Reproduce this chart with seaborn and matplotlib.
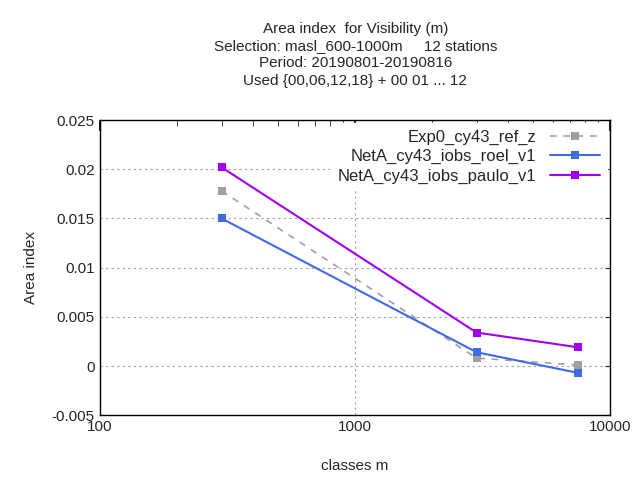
import matplotlib
matplotlib.use("Agg")
import matplotlib.pyplot as plt
import seaborn as sns
import pandas as pd
from matplotlib.ticker import FixedLocator, NullFormatter

sns.set_style("white")
plt.rcParams['font.family'] = ['Liberation Sans', 'DejaVu Sans']

classes = [300, 3000, 7500]
exp0 = [0.0178, 0.0008, 0.0001]
roel = [0.0150, 0.0014, -0.0007]
paulo = [0.0202, 0.0034, 0.0019]
names = ["Exp0_cy43_ref_z", "NetA_cy43_iobs_roel_v1", "NetA_cy43_iobs_paulo_v1"]
colors = ["#a0a0a0", "#4169e1", "#a000f0"]

df = pd.DataFrame({"x": classes * 3, "y": exp0 + roel + paulo,
                   "exp": sum([[n] * 3 for n in names], [])})

fig = plt.figure(figsize=(6.4, 4.8), dpi=100)
ax = fig.add_axes([0.156, 0.135, 0.797, 0.615])
for n, c in zip(names, colors):
    d = df[df.exp == n]
    ls = (0, (4, 4)) if n.startswith("Exp0") else "-"
    sns.lineplot(data=d, x="x", y="y", ax=ax, color=c, lw=1.5 if ls == "-" else 1.2,
                 linestyle=ls, marker="s", markersize=6, markeredgewidth=0, label=n)
ax.set_xscale("log")
ax.set_xlim(100, 10000)
ax.set_ylim(-0.005, 0.025)
ax.set_yticks([-0.005, 0, 0.005, 0.01, 0.015, 0.02, 0.025])
ax.set_yticklabels(["-0.005", "0", "0.005", "0.01", "0.015", "0.02", "0.025"])
ax.set_xticks([100, 1000, 10000])
ax.set_xticklabels(["100", "1000", "10000"])
ax.xaxis.set_minor_locator(FixedLocator([200, 300, 400, 500, 600, 700, 800, 900,
                                         2000, 3000, 4000, 5000, 6000, 7000, 8000, 9000]))
ax.xaxis.set_minor_formatter(NullFormatter())
ax.tick_params(axis="both", which="both", direction="in", top=True, right=True, labelsize=11)
ax.tick_params(axis="x", which="major", length=8, width=1.5)
ax.tick_params(axis="x", which="minor", length=4)
ax.grid(True, which="major", color="#a0a0a0", linestyle=(0, (2, 3)), lw=0.8)
for s in ax.spines.values():
    s.set_color("black")
    s.set_linewidth(1)
ax.set_xlabel("classes m", fontsize=11, labelpad=18)
ax.set_ylabel("Area index", fontsize=11, labelpad=10)
leg = ax.legend(loc="upper right", frameon=True, fontsize=12, handlelength=3,
                markerfirst=False, borderaxespad=0.2, labelspacing=0.25)
leg.get_frame().set_edgecolor("white")
leg.get_frame().set_alpha(1)
for t in leg.get_texts():
    t.set_ha("right")
fig.text(0.555, 0.955,
         "Area index  for Visibility (m)\nSelection: masl_600-1000m     12 stations\n"
         "Period: 20190801-20190816\nUsed {00,06,12,18} + 00 01 ... 12",
         ha="center", va="top", fontsize=11, linespacing=1.3)
fig.savefig("out.png", dpi=100)
